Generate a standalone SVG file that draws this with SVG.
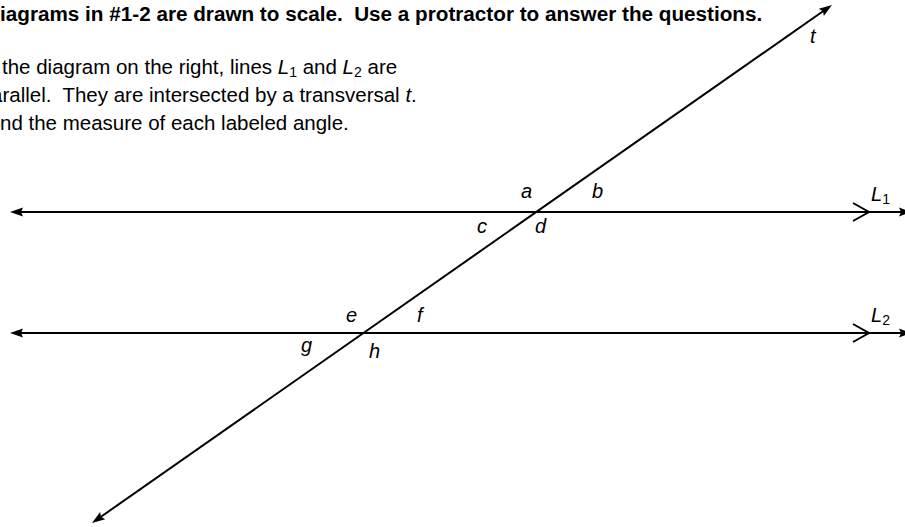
<svg xmlns="http://www.w3.org/2000/svg" width="905" height="527" viewBox="0 0 905 527">
<style>
text{font-family:"Liberation Sans",Arial,sans-serif;fill:#000;white-space:pre}
.title{font-size:20.7px;font-weight:bold}
.body{font-size:20.5px}
.lbl{font-size:20px;font-style:italic}
.sub{font-size:14px;font-style:normal}
.ln{stroke:#000;stroke-width:2;fill:none}
</style>
<defs>
<marker id="ah" markerUnits="userSpaceOnUse" markerWidth="16" markerHeight="12" refX="9" refY="5" orient="auto-start-reverse" overflow="visible">
<path d="M0,0.6 L13,5 L0,9.4 L2,5 Z" fill="#000"/>
</marker>
</defs>
<g id="text">
<text class="title" x="0" y="21">iagrams in #1-2 are drawn to scale.  Use a protractor to answer the questions.</text>
<text class="body" x="2" y="74">the diagram on the right, lines <tspan font-style="italic">L</tspan><tspan class="sub" dy="3">1</tspan><tspan dy="-3"> and </tspan><tspan font-style="italic">L</tspan><tspan class="sub" dy="3">2</tspan><tspan dy="-3"> are</tspan></text>
<text class="body" x="-9" y="102">arallel.  They are intersected by a transversal <tspan font-style="italic">t</tspan>.</text>
<text class="body" x="0" y="130">nd the measure of each labeled angle.</text>
</g>
<g id="connectors">
<line id="L1" class="ln" x1="14" y1="212" x2="908" y2="212" marker-start="url(#ah)" marker-end="url(#ah)"/>
<line id="L2" class="ln" x1="14" y1="333" x2="908" y2="333" marker-start="url(#ah)" marker-end="url(#ah)"/>
<line id="t" class="ln" x1="95.3" y1="520.7" x2="828.7" y2="7.3" marker-start="url(#ah)" marker-end="url(#ah)"/>
<path class="ln" d="M853,203 L869,212 L853,221"/>
<path class="ln" d="M853,324 L869,333 L853,342"/>
</g>
<g id="label-L1"><text class="lbl" x="871" y="201">L<tspan class="sub" dy="3">1</tspan></text></g>
<g id="label-L2"><text class="lbl" x="871" y="322">L<tspan class="sub" dy="3">2</tspan></text></g>
<g id="label-t"><text class="lbl" x="810" y="43">t</text></g>
<g id="angle-a"><text class="lbl" x="521" y="198">a</text></g>
<g id="angle-b"><text class="lbl" x="592" y="198">b</text></g>
<g id="angle-c"><text class="lbl" x="477" y="233">c</text></g>
<g id="angle-d"><text class="lbl" x="535" y="233">d</text></g>
<g id="angle-e"><text class="lbl" x="346" y="322">e</text></g>
<g id="angle-f"><text class="lbl" x="417" y="322">f</text></g>
<g id="angle-g"><text class="lbl" x="301" y="352">g</text></g>
<g id="angle-h"><text class="lbl" x="369" y="358">h</text></g>
</svg>
